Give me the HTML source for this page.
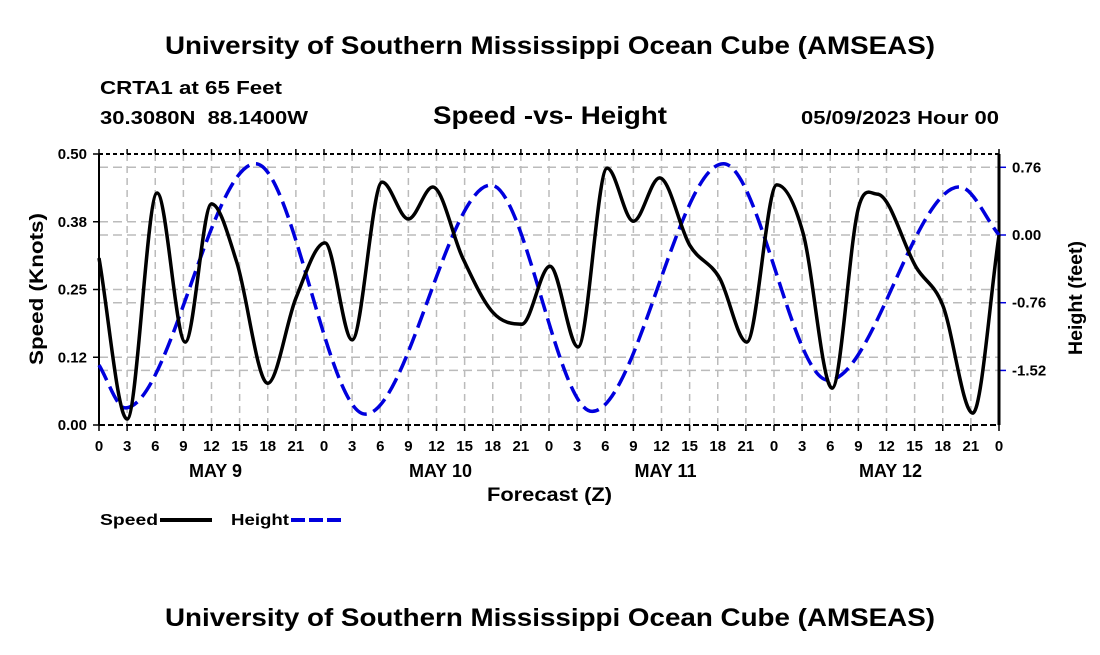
<!DOCTYPE html>
<html><head><meta charset="utf-8">
<style>
body{margin:0;background:#fff;width:1100px;height:650px;overflow:hidden}
svg text{font-family:"Liberation Sans",sans-serif;font-weight:bold}
</style></head>
<body>
<svg id="chart" width="1100" height="650" viewBox="0 0 1100 650" xmlns="http://www.w3.org/2000/svg">
<text x="165" y="54" font-size="25" textLength="770" lengthAdjust="spacingAndGlyphs">University of Southern Mississippi Ocean Cube (AMSEAS)</text>
<text x="100" y="94" font-size="18" textLength="182" lengthAdjust="spacingAndGlyphs">CRTA1 at 65 Feet</text>
<text x="100" y="124" font-size="18" textLength="208" lengthAdjust="spacingAndGlyphs" xml:space="preserve">30.3080N  88.1400W</text>
<text x="433" y="124" font-size="25" textLength="234" lengthAdjust="spacingAndGlyphs">Speed -vs- Height</text>
<text x="801" y="124" font-size="18" textLength="198" lengthAdjust="spacingAndGlyphs">05/09/2023 Hour 00</text>
<g id="grid"></g>
<g id="axes"></g>
<g id="series"></g>
<text transform="translate(43,365) rotate(-90)" font-size="19" textLength="152" lengthAdjust="spacingAndGlyphs">Speed (Knots)</text>
<text transform="translate(1082,355) rotate(-90)" font-size="19" textLength="114" lengthAdjust="spacingAndGlyphs">Height (feet)</text>
<text x="487" y="501" font-size="19" textLength="125" lengthAdjust="spacingAndGlyphs">Forecast (Z)</text>
<g>
<text x="100" y="525" font-size="16" textLength="58" lengthAdjust="spacingAndGlyphs">Speed</text>
<line x1="160" y1="520" x2="212" y2="520" stroke="#000" stroke-width="4"/>
<text x="231" y="525" font-size="16" textLength="58" lengthAdjust="spacingAndGlyphs">Height</text>
<line x1="291" y1="520" x2="343" y2="520" stroke="#0000dd" stroke-width="4" stroke-dasharray="14,4"/>
</g>
<text x="165" y="626" font-size="25" textLength="770" lengthAdjust="spacingAndGlyphs">University of Southern Mississippi Ocean Cube (AMSEAS)</text>
</svg>
<script>
const speedHours=[0,3,6.2,9.2,12,14.7,18,21,24.1,27,30.2,33,35.6,38.8,42,45.1,48.1,51.1,54.2,57,59.8,63,66.2,69.1,72.3,75.1,78.2,81,83,87.2,90,93.2,96];
const speedValues=[0.308,0.011,0.428,0.153,0.408,0.30,0.077,0.234,0.336,0.157,0.448,0.38,0.439,0.308,0.208,0.186,0.293,0.144,0.474,0.376,0.456,0.332,0.271,0.153,0.443,0.354,0.068,0.40,0.426,0.29,0.221,0.022,0.35];
const heightHours=[0,2.8,16.7,28.4,41.8,52.6,66.6,77.8,91.8,96];
const heightValues=[-1.46,-1.94,0.80,-2.01,0.56,-1.98,0.80,-1.63,0.54,0.0];
const leftTicks=[0,0.125,0.25,0.375,0.5];
const leftTickLabels=["0.00","0.12","0.25","0.38","0.50"];
const rightTicks=[0.76,0,-0.76,-1.52];
const rightTickLabels=["0.76","0.00","-0.76","-1.52"];
const hourLabels=["0","3","6","9","12","15","18","21"];
const dayLabels=["MAY 9","MAY 10","MAY 11","MAY 12"];

const L=99,R=999,T=154,B=425,NS="http://www.w3.org/2000/svg";
const xS=h=>L+h*(R-L)/96;
const yS=v=>B-v*(B-T)/0.5;
const yH=v=>235-v*89.1;
function mk(p,tag,a){const e=document.createElementNS(NS,tag);for(const k in a)e.setAttribute(k,a[k]);p.appendChild(e);return e;}
const grid=document.getElementById('grid'),axes=document.getElementById('axes'),series=document.getElementById('series');
for(let i=1;i<32;i++){const l=mk(grid,'line',{x1:xS(i*3),x2:xS(i*3),y1:T,y2:B,stroke:'#bbb','stroke-width':1.5,'stroke-dasharray':'7,5'});

}
leftTicks.forEach((v,i)=>{if(i>0&&i<4){const l=mk(grid,'line',{x1:L,x2:R,y1:yS(v),y2:yS(v),stroke:'#bbb','stroke-width':1.5,'stroke-dasharray':'9,5'});

}
const t=mk(axes,'text',{x:87,y:yS(v)+5,'font-size':15,'text-anchor':'end'});t.textContent=leftTickLabels[i];


mk(axes,'line',{x1:L-6,x2:L,y1:yS(v),y2:yS(v),stroke:'#000','stroke-width':1.5});});
rightTicks.forEach((v,i)=>{const l=mk(grid,'line',{x1:L,x2:R,y1:yH(v),y2:yH(v),stroke:'#bbb','stroke-width':1.5,'stroke-dasharray':'9,5'});


mk(axes,'line',{x1:R,x2:R+7,y1:yH(v),y2:yH(v),stroke:'#0000dd','stroke-width':1.5});
const t=mk(axes,'text',{x:1012,y:yH(v)+5,'font-size':15});t.textContent=rightTickLabels[i];

});
mk(axes,'line',{x1:L,x2:R,y1:T,y2:T,stroke:'#000','stroke-width':2,'stroke-dasharray':'4,3'});
mk(axes,'line',{x1:L,x2:R,y1:B,y2:B,stroke:'#000','stroke-width':2,'stroke-dasharray':'6,3'});
mk(axes,'line',{x1:L,x2:L,y1:T,y2:B,stroke:'#000','stroke-width':2});
mk(axes,'line',{x1:R,x2:R,y1:T,y2:B,stroke:'#000','stroke-width':3});
for(let i=0;i<=32;i++){const x=xS(i*3);
mk(axes,'line',{x1:x,x2:x,y1:B,y2:B+6,stroke:'#000','stroke-width':1.5});
mk(axes,'line',{x1:x,x2:x,y1:T-5,y2:T,stroke:'#000','stroke-width':1.5});
const t=mk(axes,'text',{x:x,y:451,'font-size':15,'text-anchor':'middle'});t.textContent=hourLabels[i%8];

}
dayLabels.forEach((d,i)=>{const t=mk(axes,'text',{x:xS(12+24*i)+4,y:477,'font-size':18,'text-anchor':'middle'});t.textContent=d;

});
function monoPath(xs,ys){const n=xs.length,d=[],m=new Array(n);
for(let i=0;i<n-1;i++)d.push((ys[i+1]-ys[i])/(xs[i+1]-xs[i]));
m[0]=d[0];m[n-1]=d[n-2];
for(let i=1;i<n-1;i++){m[i]=(d[i-1]*d[i]<=0)?0:(d[i-1]+d[i])/2;}
let p='M'+xs[0]+','+ys[0];
for(let i=0;i<n-1;i++){const h=xs[i+1]-xs[i];p+=' C'+(xs[i]+h/3)+','+(ys[i]+m[i]*h/3)+' '+(xs[i+1]-h/3)+','+(ys[i+1]-m[i+1]*h/3)+' '+xs[i+1]+','+ys[i+1];}
return p;}
const hp=mk(series,'path',{d:monoPath(heightHours.map(xS),heightValues.map(yH)),fill:'none',stroke:'#0000dd','stroke-width':3.5,'stroke-dasharray':'17,7'});


const sp=mk(series,'path',{d:monoPath(speedHours.map(xS),speedValues.map(yS)),fill:'none',stroke:'#000','stroke-width':3.5,'stroke-linejoin':'round'});


</script>
</body></html>
